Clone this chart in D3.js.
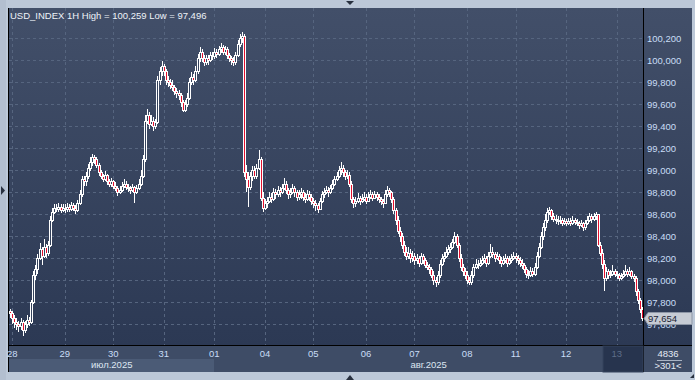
<!DOCTYPE html>
<html>
<head>
<meta charset="utf-8">
<script src="https://cdn.jsdelivr.net/npm/d3@7"></script>
<style>
  html, body { margin: 0; padding: 0; background: #bcc8d8; }
  svg { display: block; font-family: "Liberation Sans", Arial, sans-serif; }
</style>
</head>
<body>
<svg id="chart" width="695" height="380"></svg>
<script>
// hourly closes, one row per trading day (28.07 - 13.08.2025)
var closes = [
  97.70, 97.66, 97.62, 97.60, 97.58, 97.62, 97.55, 97.60, 97.64, 97.62, 97.80, 98.05, 98.10, 98.20, 98.28, 98.22, 98.30, 98.25, 98.32, 98.55, 98.62, 98.66, 98.65, 98.67, 98.64, 98.66,
  98.65, 98.67, 98.65, 98.68, 98.66, 98.64, 98.70, 98.78, 98.92, 98.90, 98.95, 99.02, 99.08, 99.12, 99.10, 99.05, 98.98, 98.95, 98.92, 98.96, 98.90, 98.88, 98.90, 98.86,
  98.84, 98.80, 98.82, 98.86, 98.88, 98.85, 98.84, 98.82, 98.85, 98.80, 98.84, 98.88, 98.95, 99.10, 99.45, 99.50, 99.42, 99.45, 99.40, 99.44, 99.82, 99.90, 99.95, 99.90,
  99.82, 99.80, 99.78, 99.76, 99.72, 99.70, 99.68, 99.62, 99.55, 99.60, 99.66, 99.80, 99.85, 99.82, 99.90, 100.02, 100.08, 100.02, 99.98, 100.02, 100.00, 100.05, 100.04, 100.08,
  100.06, 100.10, 100.12, 100.08, 100.10, 100.05, 100.02, 100.00, 99.98, 100.05, 100.15, 100.20, 100.22, 98.98, 98.92, 98.85, 98.95, 99.00, 98.95, 99.02, 99.10, 98.75, 98.66, 98.70,
  98.72, 98.76, 98.74, 98.80, 98.78, 98.82, 98.80, 98.84, 98.88, 98.82, 98.78, 98.80, 98.84, 98.80, 98.76, 98.78, 98.80, 98.76, 98.74, 98.78, 98.76, 98.72, 98.70, 98.68,
  98.65, 98.72, 98.78, 98.80, 98.82, 98.80, 98.84, 98.88, 98.92, 98.95, 99.00, 99.02, 98.98, 98.95, 98.96, 98.88, 98.74, 98.70, 98.72, 98.75, 98.72, 98.74, 98.76, 98.72,
  98.76, 98.78, 98.75, 98.78, 98.76, 98.74, 98.72, 98.70, 98.78, 98.82, 98.80, 98.74, 98.64, 98.55, 98.45, 98.40, 98.32, 98.26, 98.22, 98.25, 98.20, 98.22, 98.18, 98.20,
  98.16, 98.22, 98.18, 98.14, 98.12, 98.10, 98.05, 98.00, 97.98, 98.05, 98.15, 98.20, 98.22, 98.26, 98.28, 98.30, 98.35, 98.40, 98.32, 98.20, 98.12, 98.08, 98.05, 98.00,
  97.98, 98.05, 98.12, 98.15, 98.14, 98.16, 98.18, 98.20, 98.16, 98.22, 98.26, 98.24, 98.20, 98.22, 98.18, 98.16, 98.18, 98.20, 98.16, 98.18, 98.20, 98.22, 98.20, 98.18,
  98.16, 98.14, 98.10, 98.06, 98.05, 98.08, 98.06, 98.12, 98.22, 98.30, 98.40, 98.48, 98.55, 98.62, 98.64, 98.58, 98.56, 98.55, 98.54, 98.55, 98.52, 98.54, 98.52, 98.54,
  98.52, 98.55, 98.53, 98.52, 98.50, 98.52, 98.48, 98.52, 98.55, 98.58, 98.56, 98.58, 98.60, 98.32, 98.25, 98.15, 98.02, 98.08, 98.05, 98.06, 98.08, 98.06, 98.05, 98.02,
  98.04, 98.06, 98.08, 98.06, 98.08, 98.04, 98.02, 97.90, 97.82, 97.74, 97.654
];
var highs = [
  97.74, 97.72, 97.68, 97.66, 97.63, 97.66, 97.64, 97.63, 97.68, 97.67, 97.82, 98.08, 98.14, 98.24, 98.34, 98.30, 98.38, 98.33, 98.36, 98.58, 98.66, 98.69, 98.69, 98.70, 98.69, 98.69,
  98.69, 98.70, 98.69, 98.71, 98.70, 98.68, 98.73, 98.82, 98.95, 98.95, 98.98, 99.06, 99.12, 99.15, 99.14, 99.12, 99.07, 99.00, 98.97, 98.99, 98.97, 98.92, 98.93, 98.91,
  98.89, 98.86, 98.86, 98.89, 98.92, 98.90, 98.88, 98.86, 98.88, 98.86, 98.87, 98.92, 99.00, 99.14, 99.50, 99.56, 99.53, 99.50, 99.48, 99.47, 99.86, 99.94, 99.99, 99.97,
  99.92, 99.86, 99.83, 99.82, 99.78, 99.75, 99.73, 99.70, 99.64, 99.64, 99.70, 99.84, 99.89, 99.88, 99.95, 100.06, 100.12, 100.10, 100.05, 100.05, 100.05, 100.08, 100.08, 100.11,
  100.10, 100.13, 100.16, 100.14, 100.13, 100.12, 100.07, 100.04, 100.03, 100.08, 100.18, 100.24, 100.259, 100.24, 99.05, 98.98, 98.98, 99.04, 99.04, 99.06, 99.18, 99.12, 98.80, 98.74,
  98.76, 98.80, 98.79, 98.84, 98.83, 98.86, 98.85, 98.88, 98.93, 98.90, 98.84, 98.84, 98.88, 98.86, 98.82, 98.82, 98.84, 98.82, 98.79, 98.82, 98.81, 98.78, 98.75, 98.73,
  98.70, 98.75, 98.81, 98.84, 98.86, 98.85, 98.87, 98.91, 98.95, 98.98, 99.04, 99.08, 99.05, 99.00, 99.00, 98.98, 98.90, 98.76, 98.76, 98.79, 98.77, 98.78, 98.80, 98.78,
  98.80, 98.82, 98.80, 98.81, 98.80, 98.78, 98.76, 98.74, 98.82, 98.86, 98.84, 98.81, 98.76, 98.66, 98.58, 98.48, 98.43, 98.36, 98.30, 98.30, 98.28, 98.27, 98.25, 98.24,
  98.22, 98.25, 98.24, 98.20, 98.17, 98.15, 98.12, 98.08, 98.03, 98.08, 98.18, 98.24, 98.26, 98.30, 98.32, 98.34, 98.38, 98.44, 98.42, 98.34, 98.24, 98.15, 98.11, 98.08,
  98.03, 98.08, 98.15, 98.19, 98.18, 98.20, 98.22, 98.24, 98.22, 98.26, 98.33, 98.30, 98.26, 98.26, 98.24, 98.21, 98.22, 98.24, 98.22, 98.22, 98.24, 98.26, 98.25, 98.23,
  98.21, 98.19, 98.16, 98.12, 98.09, 98.12, 98.11, 98.16, 98.26, 98.34, 98.44, 98.52, 98.60, 98.66, 98.67, 98.65, 98.61, 98.59, 98.58, 98.58, 98.57, 98.57, 98.56, 98.57,
  98.57, 98.58, 98.57, 98.56, 98.54, 98.55, 98.53, 98.55, 98.58, 98.61, 98.60, 98.61, 98.62, 98.60, 98.35, 98.28, 98.18, 98.12, 98.10, 98.09, 98.14, 98.10, 98.08, 98.07,
  98.07, 98.09, 98.14, 98.10, 98.12, 98.09, 98.06, 98.04, 97.92, 97.84, 97.76
];
var lows = [
  97.66, 97.60, 97.57, 97.55, 97.53, 97.55, 97.496, 97.52, 97.57, 97.58, 97.60, 97.78, 98.00, 98.06, 98.18, 98.14, 98.20, 98.20, 98.22, 98.30, 98.53, 98.60, 98.62, 98.62, 98.61, 98.62,
  98.61, 98.62, 98.62, 98.63, 98.63, 98.60, 98.62, 98.68, 98.76, 98.86, 98.86, 98.92, 98.99, 99.04, 99.06, 99.02, 98.95, 98.92, 98.89, 98.90, 98.87, 98.85, 98.85, 98.83,
  98.81, 98.77, 98.78, 98.80, 98.84, 98.82, 98.80, 98.78, 98.80, 98.70, 98.78, 98.82, 98.86, 98.93, 99.08, 99.42, 99.38, 99.40, 99.36, 99.38, 99.42, 99.78, 99.86, 99.86,
  99.78, 99.76, 99.74, 99.72, 99.68, 99.66, 99.64, 99.58, 99.53, 99.53, 99.58, 99.64, 99.78, 99.78, 99.80, 99.88, 99.98, 99.98, 99.95, 99.96, 99.96, 99.98, 100.00, 100.01,
  100.02, 100.04, 100.07, 100.05, 100.05, 100.01, 99.98, 99.96, 99.95, 99.96, 100.03, 100.12, 100.16, 98.94, 98.80, 98.67, 98.82, 98.90, 98.92, 98.92, 99.00, 98.72, 98.62, 98.64,
  98.66, 98.70, 98.70, 98.72, 98.74, 98.76, 98.76, 98.78, 98.82, 98.78, 98.74, 98.75, 98.78, 98.76, 98.72, 98.73, 98.74, 98.72, 98.70, 98.72, 98.72, 98.68, 98.66, 98.63,
  98.61, 98.64, 98.70, 98.75, 98.78, 98.76, 98.78, 98.82, 98.86, 98.90, 98.93, 98.96, 98.94, 98.91, 98.92, 98.85, 98.70, 98.66, 98.67, 98.70, 98.68, 98.70, 98.72, 98.69,
  98.72, 98.74, 98.72, 98.74, 98.72, 98.70, 98.68, 98.66, 98.69, 98.76, 98.76, 98.70, 98.60, 98.50, 98.42, 98.35, 98.28, 98.22, 98.18, 98.19, 98.16, 98.17, 98.14, 98.15,
  98.12, 98.14, 98.15, 98.11, 98.09, 98.06, 98.02, 97.96, 97.94, 97.96, 98.02, 98.13, 98.17, 98.20, 98.23, 98.25, 98.28, 98.33, 98.29, 98.17, 98.08, 98.04, 98.01, 97.97,
  97.96, 97.96, 98.02, 98.10, 98.10, 98.12, 98.14, 98.16, 98.12, 98.14, 98.20, 98.20, 98.17, 98.18, 98.15, 98.12, 98.14, 98.16, 98.12, 98.14, 98.16, 98.18, 98.16, 98.14,
  98.12, 98.10, 98.07, 98.02, 98.01, 98.03, 98.03, 98.04, 98.10, 98.20, 98.28, 98.37, 98.45, 98.52, 98.59, 98.55, 98.53, 98.51, 98.50, 98.51, 98.49, 98.50, 98.49, 98.50,
  98.49, 98.50, 98.50, 98.49, 98.47, 98.48, 98.45, 98.46, 98.50, 98.53, 98.52, 98.54, 98.55, 98.30, 98.22, 98.10, 97.90, 97.99, 98.01, 98.02, 98.04, 98.03, 98.01, 97.99,
  98.00, 98.02, 98.04, 98.03, 98.04, 98.01, 97.98, 97.86, 97.78, 97.70, 97.63
];
var firstOpen = 97.72;

// day labels and the bar where each day starts
var dayLabels = ["28", "29", "30", "31", "01", "04", "05", "06", "07", "08", "11", "12", "13"];
var dayBars = [1, 26, 49, 73, 97, 121, 144, 169, 192, 217, 240, 264, 288];
var months = ["июл.2025", "авг.2025"];
var monthBars = [0, 97, 301];
var priceTicks = [97.6, 97.8, 98.0, 98.2, 98.4, 98.6, 98.8, 99.0, 99.2, 99.4, 99.6, 99.8, 100.0, 100.2];

var W = 695, H = 380;
var pLeft = 9, pRight = 643, pTop = 8, pBottom = 345, panelRight = 692, panelBottom = 372;

var svg = d3.select("#chart");
var defs = svg.append("defs");

var grad = defs.append("linearGradient").attr("id", "bg").attr("x1", 0).attr("y1", 0).attr("x2", 0).attr("y2", 1);
grad.append("stop").attr("offset", "0%").attr("stop-color", "#424f69");
grad.append("stop").attr("offset", "100%").attr("stop-color", "#2c3954");

defs.append("clipPath").attr("id", "plotClip")
    .append("rect").attr("x", pLeft).attr("y", pTop).attr("width", pRight - pLeft).attr("height", pBottom - pTop);

var fmt = function(v) { return d3.format(".3f")(v).replace(".", ","); };

var data = closes.map(function(c, i) {
    return { o: i == 0 ? firstOpen : closes[i - 1], h: highs[i], l: lows[i], c: c };
});

var x = d3.scaleBand().domain(d3.range(closes.length)).range([pLeft, pRight]);
var y = d3.scaleLinear().domain([97.6, 100.2]).range([324.3, 38.3]);
var cx = function(i) { return x(i) + x.bandwidth() / 2; };

// outer frame
svg.append("rect").attr("width", W).attr("height", H).attr("fill", "#bcc8d8");
svg.append("rect").attr("x", 0).attr("y", 0).attr("width", 6).attr("height", H).attr("fill", "#b3bfd0");

// panel
svg.append("rect").attr("x", pLeft).attr("y", pTop).attr("width", panelRight - pLeft).attr("height", pBottom - pTop)
    .attr("fill", "url(#bg)");
svg.append("rect").attr("x", pLeft).attr("y", pBottom).attr("width", panelRight - pLeft).attr("height", panelBottom - pBottom)
    .attr("fill", "#3e4c66");

// grid
var grid = svg.append("g").attr("stroke", "#56657f").attr("stroke-width", 1).attr("stroke-dasharray", "3,3");
grid.selectAll("line.h").data(priceTicks).enter().append("line")
    .attr("x1", pLeft).attr("x2", pRight)
    .attr("y1", function(d) { return Math.round(y(d)) + 0.5; })
    .attr("y2", function(d) { return Math.round(y(d)) + 0.5; });
grid.selectAll("line.v").data(dayBars).enter().append("line")
    .attr("y1", pTop).attr("y2", pBottom)
    .attr("x1", function(d) { return Math.round(cx(d)) + 0.5; })
    .attr("x2", function(d) { return Math.round(cx(d)) + 0.5; });

// candles
var plot = svg.append("g").attr("clip-path", "url(#plotClip)");
var candle = plot.selectAll("g.candle").data(data).enter().append("g");
candle.each(function(d, i) {
    var g = d3.select(this);
    var px = Math.round(cx(i));
    var yh = Math.round(y(d.h)), yl = Math.round(y(d.l));
    var yt = Math.round(y(Math.max(d.o, d.c))), yb = Math.round(y(Math.min(d.o, d.c)));
    var bh = Math.max(1, yb - yt);
    g.append("rect").attr("x", px).attr("y", yh).attr("width", 1).attr("height", Math.max(1, yl - yh)).attr("fill", "#fff");
    g.append("rect").attr("x", px - 1).attr("y", yt).attr("width", 3).attr("height", bh + 1).attr("fill", "#fff");
    if (bh > 1) {
        g.append("rect").attr("x", px).attr("y", yt + 1).attr("width", 1).attr("height", bh - 1)
            .attr("fill", d.c < d.o ? "#e3102e" : "#34425c");
    }
});

// axis lines
svg.append("rect").attr("x", pLeft - 1).attr("y", pTop).attr("width", 1).attr("height", panelBottom - pTop).attr("fill", "#000");
svg.append("rect").attr("x", pLeft).attr("y", pBottom).attr("width", panelRight - pLeft).attr("height", 1).attr("fill", "#000");
svg.append("rect").attr("x", pRight).attr("y", pTop).attr("width", 1).attr("height", panelBottom - pTop).attr("fill", "#000");

// right price axis
var yAxis = d3.axisRight(y).tickValues(priceTicks).tickSize(0).tickPadding(3).tickFormat(fmt);
var ya = svg.append("g").attr("transform", "translate(" + (pRight + 1) + ",0)").call(yAxis);
ya.select(".domain").remove();
ya.selectAll("text").attr("fill", "#c9ddf6").attr("font-size", "9.5px").attr("font-family", "\"Liberation Sans\", Arial, sans-serif");

// last price tag
var lastY = Math.round(y(closes[closes.length - 1]));
svg.append("path")
    .attr("d", "M" + (pRight + 1) + "," + (lastY + 0.5) + "L" + (pRight + 5) + "," + (lastY - 5.5) + "L" + panelRight + "," + (lastY - 5.5) +
        "L" + panelRight + "," + (lastY + 6.5) + "L" + (pRight + 5) + "," + (lastY + 6.5) + "Z")
    .attr("fill", "#c6cbd4").attr("stroke", "#8d96a6").attr("stroke-width", 1);
svg.append("text").attr("x", pRight + 5).attr("y", lastY + 4)
    .attr("font-size", "9.5px").attr("fill", "#1a2233")
    .text(fmt(closes[closes.length - 1]));

// month band
svg.selectAll("rect.month").data(months).enter().append("rect")
    .attr("x", function(d, i) { return i == 0 ? pLeft : Math.round(cx(monthBars[i])); })
    .attr("y", 359).attr("height", panelBottom - 359)
    .attr("width", function(d, i) {
        var x0 = i == 0 ? pLeft : Math.round(cx(monthBars[i]));
        var x1 = i == months.length - 1 ? pRight : Math.round(cx(monthBars[i + 1]));
        return x1 - x0;
    })
    .attr("fill", function(d, i) { return i == 0 ? "#4b5b76" : "#3e4c66"; });

// current day highlight
var curX = Math.round(cx(dayBars[dayBars.length - 1])) - 14;
svg.append("rect").attr("x", curX).attr("y", pBottom + 1).attr("width", pRight - curX).attr("height", panelBottom - pBottom - 1)
    .attr("fill", "#27344e").attr("stroke", "#34425c");

// day labels
var xAxis = d3.axisBottom(x).tickValues(dayBars).tickSize(0).tickPadding(4)
    .tickFormat(function(d) { return dayLabels[dayBars.indexOf(d)]; });
var xa = svg.append("g").attr("transform", "translate(0," + (pBottom + 1) + ")").call(xAxis);
xa.select(".domain").remove();
xa.selectAll("text").attr("font-size", "9.5px").attr("font-family", "\"Liberation Sans\", Arial, sans-serif")
    .attr("fill", function(d, i) { return i == dayBars.length - 1 ? "#5d6d88" : "#c9ddf6"; });

svg.selectAll("text.month").data(months).enter().append("text")
    .attr("x", function(d, i) {
        var x0 = i == 0 ? pLeft : cx(monthBars[i]);
        var x1 = i == months.length - 1 ? pRight : cx(monthBars[i + 1]);
        return (x0 + x1) / 2;
    })
    .attr("y", 368).attr("text-anchor", "middle").attr("font-size", "9.5px").attr("fill", "#dde6f2")
    .text(function(d) { return d; });

// bar counter cell
svg.append("text").attr("x", 668).attr("y", 357).attr("text-anchor", "middle").attr("font-size", "9.5px").attr("fill", "#e4eaf3").text("4836");
svg.append("rect").attr("x", 657).attr("y", 360).attr("width", 25).attr("height", 1).attr("fill", "#aab4c4");
svg.append("text").attr("x", 668).attr("y", 369).attr("text-anchor", "middle").attr("font-size", "9.5px").attr("fill", "#e4eaf3").text(">" + closes.length + "<");

// title
svg.append("text").attr("x", 10).attr("y", 18.5).attr("font-size", "9.5px").attr("fill", "#eef2f8")
    .text("USD_INDEX 1H High = " + fmt(d3.max(highs)) + " Low = " + fmt(d3.min(lows)));

// scroll arrows
var arrow = svg.append("g").attr("fill", "#28303f");
arrow.append("path").attr("d", "M346,1L354,1L350,5Z");
arrow.append("path").attr("d", "M1,186L5,190.5L1,195Z");
arrow.append("path").attr("d", "M346,380L354,380L350,375Z");
arrow.append("path").attr("d", "M694,374L694,378L690,378Z");
</script>
</body>
</html>
